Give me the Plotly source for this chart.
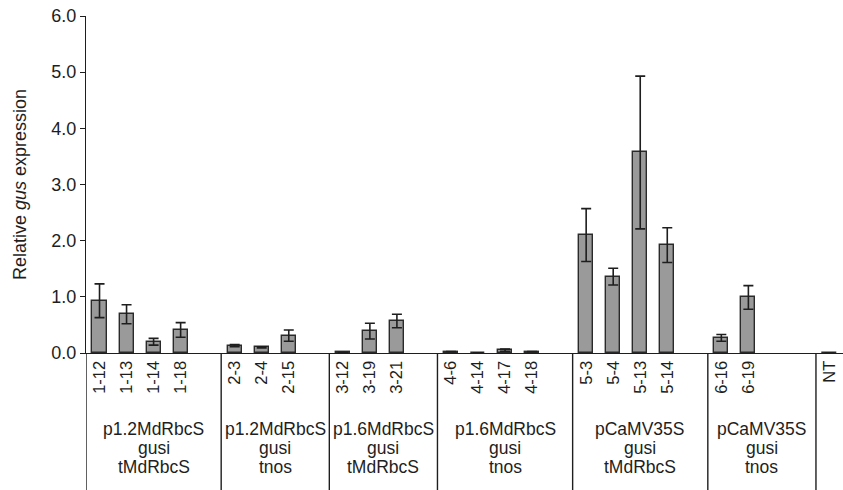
import plotly.graph_objects as go

# ---- data ----
groups = [
    ["p1.2MdRbcS", "gusi", "tMdRbcS"],
    ["p1.2MdRbcS", "gusi", "tnos"],
    ["p1.6MdRbcS", "gusi", "tMdRbcS"],
    ["p1.6MdRbcS", "gusi", "tnos"],
    ["pCaMV35S", "gusi", "tMdRbcS"],
    ["pCaMV35S", "gusi", "tnos"],
    [],
]
group_lines = ["1-12 1-13 1-14 1-18", "2-3 2-4 2-15", "3-12 3-19 3-21",
               "4-6 4-14 4-17 4-18", "5-3 5-4 5-13 5-14", "6-16 6-19", "NT"]
group_slots = [5, 4, 4, 5, 5, 4, 1]   # slots per group (incl. spacer slots)

lines = ["1-12", "1-13", "1-14", "1-18",
         "2-3", "2-4", "2-15",
         "3-12", "3-19", "3-21",
         "4-6", "4-14", "4-17", "4-18",
         "5-3", "5-4", "5-13", "5-14",
         "6-16", "6-19",
         "NT"]
values = [0.93, 0.69, 0.20, 0.41,
          0.13, 0.10, 0.31,
          0.01, 0.39, 0.57,
          0.025, 0.005, 0.05, 0.025,
          2.10, 1.36, 3.57, 1.92,
          0.27, 0.99,
          0.0]
errors = [0.30, 0.17, 0.06, 0.13,
          0.02, 0.01, 0.10,
          0.0, 0.14, 0.12,
          0.0, 0.0, 0.02, 0.0,
          0.47, 0.15, 1.36, 0.31,
          0.06, 0.21,
          0.0]
y_ticks = [0, 1, 2, 3, 4, 5, 6]

# ---- positions (slot index) ----
xpos = []
group_bounds = []
start = 0
for g, n in zip(group_lines, group_slots):
    labs = g.split()
    for i, _ in enumerate(labs):
        xpos.append(start + i)
    group_bounds.append((start - 0.5, start + n - 0.5))
    start += n
total_slots = start

FONT = "Liberation Sans, Arial, sans-serif"
fig = go.Figure()
fig.add_trace(go.Bar(
    x=xpos, y=values, width=0.52,
    marker=dict(color="#9a9a9a", line=dict(color="#2a2a2a", width=1.4)),
    error_y=dict(type="data", array=errors, visible=True,
                 color="#1e1e1e", thickness=1.6, width=5),
    showlegend=False,
))

shapes = []
for (a, b) in group_bounds:
    shapes.append(dict(type="line", xref="x", yref="paper", x0=a, x1=a,
                       y0=0, y1=-0.42, line=dict(color="#1e1e1e", width=1.4)))

annotations = []
for (a, b), g in zip(group_bounds, groups):
    for k, txt in enumerate(g):
        annotations.append(dict(x=(a + b) / 2, xref="x", y=0, yref="y",
                                yshift=-76 - 19 * k, yanchor="middle",
                                text=txt, showarrow=False,
                                font=dict(family=FONT, size=17.5, color="#1e1e1e")))

fig.update_layout(
    width=843, height=490,
    margin=dict(l=86, r=0, t=16, b=137),
    paper_bgcolor="white", plot_bgcolor="white",
    bargap=0,
    shapes=shapes,
    annotations=annotations,
    xaxis=dict(range=[-0.5, total_slots - 0.5], tickmode="array",
               tickvals=xpos, ticktext=lines, tickangle=-90,
               ticks="", showline=True, linecolor="#1e1e1e", linewidth=1.4,
               showgrid=False, zeroline=False, automargin=False,
               ticklabeloverflow="allow",
               tickfont=dict(family=FONT, size=16.5, color="#1e1e1e")),
    yaxis=dict(range=[0, 6], tickmode="array", tickvals=y_ticks,
               ticktext=[f"{v:.1f}" for v in y_ticks],
               ticks="outside", ticklen=5, tickwidth=1.4, tickcolor="#1e1e1e",
               showline=True, linecolor="#1e1e1e", linewidth=1.4,
               showgrid=False, zeroline=False, automargin=False,
               ticklabeloverflow="allow",
               tickfont=dict(family=FONT, size=18, color="#1e1e1e"),
               title=dict(text="Relative <i>gus</i> expression", standoff=19,
                          font=dict(family=FONT, size=18, color="#1e1e1e"))),
)

# remove the browser's default 8px body margin so the figure fills the window
fig.write_html("out.html",
               config={"displayModeBar": False},
               post_script="document.body.style.margin='0';"
                           "document.body.style.overflow='hidden';")
